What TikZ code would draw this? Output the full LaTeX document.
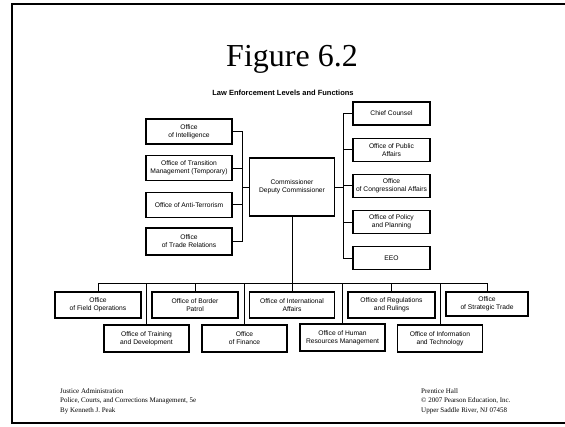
\documentclass[tikz,border=0pt]{standalone}
\usepackage{fontspec}
\setmainfont{Liberation Serif}
\setsansfont{Liberation Sans}
\usetikzlibrary{calc}

\begin{document}
\begin{tikzpicture}[x=1pt,y=1pt,node distance=36.7pt]
	\tikzstyle{office} = [rectangle, minimum width=86pt, minimum height=25pt, inner sep=1pt, text centered, align=center, draw=black, line width=1.2pt, font=\sffamily\fontsize{6.7}{8}\selectfont]
	\tikzstyle{staff} = [office, minimum width=77pt, minimum height=23pt]
	\tikzstyle{lower} = [office, minimum width=85pt, minimum height=27pt]
	\tikzstyle{line} = [line width=0.9pt]
	\tikzstyle{credit} = [anchor=north west, inner sep=0pt, align=left, font=\fontsize{7}{9.5}\selectfont]

	\useasboundingbox (0,0) rectangle (565,426);
	% slide frame
	\draw [line width=1.6pt] (565,422) -- (12,422) -- (12,3) -- (565,3);

	\node (title) [anchor=base, font=\fontsize{32}{36}\selectfont] at (292,359) {Figure 6.2};
	\node (subtitle) [anchor=base, font=\sffamily\bfseries\fontsize{7.5}{9}\selectfont] at (283,330) {Law Enforcement Levels and Functions};

	% left column
	\node (intel) [office] at (189,294.5) {Office\\of Intelligence};
	\node (transition) [office, below of=intel] {Office of Transition\\Management (Temporary)};
	\node (antiterror) [office, below of=transition] {Office of Anti-Terrorism};
	\node (traderel) [office, below of=antiterror, minimum height=27pt] {Office\\of Trade Relations};

	\node (commish) [office, minimum width=85pt, minimum height=58pt] at (292,239) {Commissioner\\Deputy Commissioner};

	% right column
	\node (counsel) [staff] at (391.5,312.5) {Chief Counsel};
	\node (pubaffairs) [staff, below of=counsel, node distance=36.2pt] {Office of Public\\Affairs};
	\node (congress) [staff, below of=pubaffairs, node distance=36.2pt] {Office\\of Congressional Affairs};
	\node (policy) [staff, below of=congress, node distance=36.2pt] {Office of Policy\\and Planning};
	\node (eeo) [staff, below of=policy, node distance=36.2pt] {EEO};

	% first row
	\node (fieldops) [office, minimum height=26pt] at (98,121) {Office\\of Field Operations};
	\node (border) [office, minimum height=26pt] at (195,121) {Office of Border\\Patrol};
	\node (intlaffairs) [office, minimum width=85pt, minimum height=26pt] at (292,121) {Office of International\\Affairs};
	\node (regrulings) [office, minimum width=87pt, minimum height=26pt] at (391.5,121) {Office of Regulations\\and Rulings};
	\node (strattrade) [office, minimum width=82pt, minimum height=24pt] at (487,122) {Office\\of Strategic Trade};

	% second row
	\node (training) [lower] at (146.5,87.5) {Office of Training\\and Development};
	\node (finance) [lower] at (244.5,87.5) {Office\\of Finance};
	\node (humanres) [lower] at (342.5,88.5) {Office of Human\\Resources Management};
	\node (infotech) [lower] at (440,87.5) {Office of Information\\and Technology};

	\coordinate (leftbus) at (242,239);
	\coordinate (rightbus) at (343,239);
	\coordinate (lowbus) at (292,143);

	\draw [line] (intel.east) -- (intel.east -| leftbus) -- (traderel.east -| leftbus) -- (traderel.east);
	\draw [line] (transition.east) -- (transition.east -| leftbus);
	\draw [line] (antiterror.east) -- (antiterror.east -| leftbus);
	\draw [line] (commish.west) -- (leftbus);

	\draw [line] (counsel.west) -- (counsel.west -| rightbus) -- (eeo.west -| rightbus) -- (eeo.west);
	\draw [line] (pubaffairs.west) -- (pubaffairs.west -| rightbus);
	\draw [line] (congress.west) -- (congress.west -| rightbus);
	\draw [line] (policy.west) -- (policy.west -| rightbus);
	\draw [line] (commish.east) -- (rightbus);

	\draw [line] (commish.south) -- (intlaffairs.north);
	\draw [line] (fieldops.north) -- (fieldops.north |- lowbus) -- (strattrade.north |- lowbus) -- (strattrade.north);
	\draw [line] (border.north) -- (border.north |- lowbus);
	\draw [line] (regrulings.north) -- (regrulings.north |- lowbus);
	\draw [line] (training.north) -- (training.north |- lowbus);
	\draw [line] (finance.north) -- (finance.north |- lowbus);
	\draw [line] (humanres.north) -- (humanres.north |- lowbus);
	\draw [line] (infotech.north) -- (infotech.north |- lowbus);

	\node (bookref) [credit] at (60,38) {Justice Administration\\Police, Courts, and Corrections Management, 5e\\By Kenneth J. Peak};
	\node (publisher) [credit] at (421,38) {Prentice Hall\\\copyright{} 2007 Pearson Education, Inc.\\Upper Saddle River, NJ 07458};
\end{tikzpicture}
\end{document}
